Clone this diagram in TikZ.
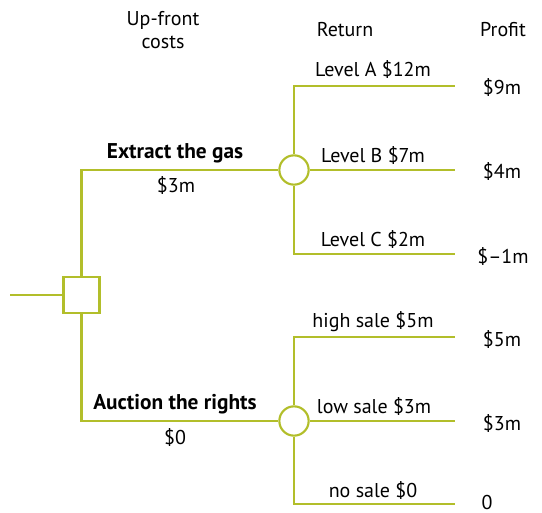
\documentclass[tikz,border=0pt]{standalone}
\usepackage{fontspec}
\setmainfont{PT Sans}
\usetikzlibrary{positioning}
\definecolor{treegreen}{RGB}{178,190,42}

\begin{document}
\begin{tikzpicture}[x=0.75pt,y=-0.75pt,
  branch/.style={treegreen,line width=1.6pt},
  decbox/.style={draw=treegreen,line width=1.6pt,fill=white,minimum size=27pt,inner sep=0pt},
  chance/.style={draw=treegreen,line width=1.6pt,fill=white,circle,minimum size=22pt,inner sep=0pt},
  lbl/.style={font=\fontsize{15}{17}\selectfont,inner sep=1pt},
  boldlbl/.style={font=\fontsize{16}{18}\selectfont\bfseries,inner sep=1pt}]
\useasboundingbox (0,0) rectangle (542,513);
% decision and chance points
\node[decbox] (dec) at (81.5,295) {};
\node[chance] (gas) at (294,170) {};
\node[chance] (rights) at (294,421) {};
\coordinate (start) at (10,295);
\coordinate (up) at (81.5,170); \coordinate (down) at (81.5,421);
\coordinate (lvA) at (294,86); \coordinate (lvC) at (294,254);
\coordinate (hi) at (294,337); \coordinate (no) at (294,504);
\coordinate (endA) at (455,86); \coordinate (endB) at (455,170); \coordinate (endC) at (455,254);
\coordinate (endH) at (455,337); \coordinate (endL) at (455,421); \coordinate (endN) at (455,504);
% branches
\draw[branch] (start) -- (dec.west);
\draw[branch] (dec.north) -- (up) -- (gas.west);
\draw[branch] (dec.south) -- (down) -- (rights.west);
\draw[branch] (gas.north) -- (lvA) -- (endA);
\draw[branch] (gas.east) -- (endB);
\draw[branch] (gas.south) -- (lvC) -- (endC);
\draw[branch] (rights.north) -- (hi) -- (endH);
\draw[branch] (rights.east) -- (endL);
\draw[branch] (rights.south) -- (no) -- (endN);
% headings
\node[lbl,align=center] (hcost) at (163,30) {Up-front\\costs};
\node[lbl] (hret) at (345,30) {Return};
\node[lbl] (hprof) at (503,30) {Profit};
% labels
\node[boldlbl] (tgas) at (175,153) {Extract the gas};
\node[lbl] (cgas) at (176,186) {\$3m};
\node[boldlbl] (trights) at (175,404) {Auction the rights};
\node[lbl] (crights) at (175,437) {\$0};
\node[lbl] (rA) at (373,70) {Level A \$12m};
\node[lbl] (rB) at (373,156) {Level B \$7m};
\node[lbl] (rC) at (373,240) {Level C \$2m};
\node[lbl] (rH) at (373,322) {high sale \$5m};
\node[lbl] (rL) at (374,406) {low sale \$3m};
\node[lbl] (rN) at (373,490) {no sale \$0};
\node[lbl] (pA) at (502,88) {\$9m};
\node[lbl] (pB) at (502,172) {\$4m};
\node[lbl] (pC) at (503,256) {\$–1m};
\node[lbl] (pH) at (502,339) {\$5m};
\node[lbl] (pL) at (502,423) {\$3m};
\node[lbl] (pN) at (487,502) {0};
\end{tikzpicture}
\end{document}
